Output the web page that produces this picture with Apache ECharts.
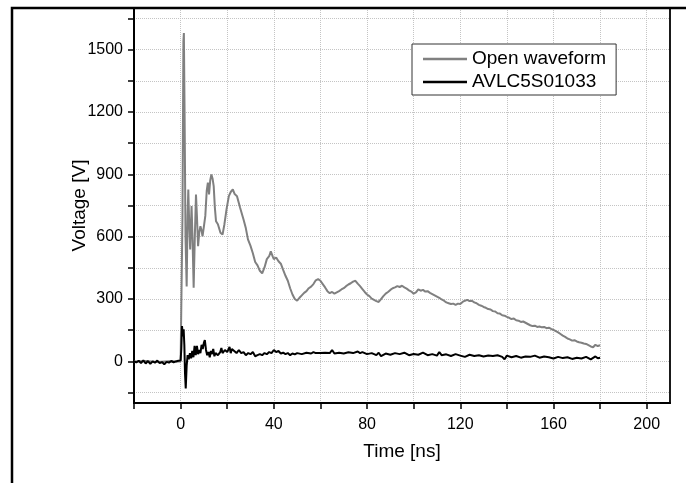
<!DOCTYPE html>
<html>
<head>
<meta charset="utf-8">
<script src="https://cdn.jsdelivr.net/npm/echarts@6/dist/echarts.min.js"></script>
<style>
html,body{margin:0;padding:0;background:#fff;}
#c{width:686px;height:483px;}
</style>
</head>
<body>
<div id="c"></div>
<script>
// ---- data ----
const openTime = [-20,-15,-10,-5,-1,0,0.4,0.8,1.2,1.4,1.7,2.1,2.6,3.0,3.3,3.6,4.1,4.7,5.1,5.6,6.1,6.6,7.0,7.5,8.0,8.5,9.0,9.4,10,10.6,11.2,11.7,12.2,12.7,13.2,13.7,14.2,14.7,15.2,16.0,17.1,18.0,18.8,19.7,20.7,21.5,22.4,23.2,24.2,25.5,27,28,28.9,
  30,31,32,33,34,35,36,37,38,38.7,39.5,40,41,42,43,44,45,46,47,48,49,50,51,52,53,54,55,56,57,58,59,60,61,62,63,64,65,66,67,68,69,70,71,72,73,74,75,76,77,78,79,80,81,82,83,84,85,86,87,88,89,90,91,92,93,94,95,96,97,98,99,100,101,102,103,104,105,106,107,108,109,110,111,112,113,114,115,116,117,118,119,120,121,122,123,124,125,126,127,128,129,130,131,132,133,134,135,136,137,138,139,140,141,142,143,144,145,146,147,148,149,150,151,152,153,154,155,156,157,158,159,160,161,162,163,164,165,166,167,168,169,170,171,172,173,174,175,176,177,178,179,180];
const openVolt = [0,2,-3,1,0,0,5,700,1540,1580,1200,600,360,700,827,700,538,747,600,355,600,803,700,554,620,650,630,602,650,700,820,860,803,870,899,880,843,740,674,660,619,610,660,731,795,815,827,805,795,740,683,640,587,
  556,520,478,462,436,424,452,492,506,530,505,492,500,482,470,440,412,388,352,322,300,292,306,318,330,338,352,360,372,390,396,388,372,356,338,328,334,326,332,338,346,352,362,370,376,384,388,374,362,348,334,322,314,302,296,290,286,300,314,326,334,344,352,356,362,358,364,356,350,342,336,326,332,346,340,344,336,338,330,324,318,312,306,298,292,284,280,276,278,272,278,276,286,292,296,290,292,284,280,272,268,262,258,252,250,242,240,232,230,222,220,214,210,204,206,198,196,190,192,186,180,174,170,172,166,168,164,166,160,162,156,152,146,140,132,124,118,110,106,100,102,96,92,90,86,84,78,72,68,80,74,78];

const avlcTime = [-20,-19,-18,-17,-16,-15,-14,-13,-12,-11,-10,-9,-8,-7,-6,-5,-4,-3,-2,-1,0,0.3,0.6,1.0,1.3,1.6,1.9,2.2,2.6,3.0,3.5,4.0,4.5,5.0,5.5,6.0,6.5,7.0,7.5,8.0,8.5,9.0,9.5,10.0,10.4,10.9,11.4,12,12.5,13,13.5,14,14.5,15,16,17,17.5,18,19,20,21,21.5,22,23,24,25,26,27,28,29,30,31,32,33,34,35,36,37,38,39,40,41,42,43,44,45,46,47,48,49,50,52,54,56,57,58,60,62,64,65,66,68,70,72,74,76,77,78,80,82,84,85,86,88,90,92,94,96,98,100,102,104,106,108,110,111,112,114,116,118,120,122,124,126,128,130,132,134,136,138,139,140,142,144,146,148,150,152,154,156,158,160,162,164,166,168,170,172,174,176,178,179,180];
const avlcVolt = [0,-5,3,-8,5,-10,2,-12,0,-6,4,-8,-3,-14,-2,-6,2,-4,0,3,5,60,170,120,155,80,-60,-130,-20,30,10,40,15,50,20,75,30,75,35,55,40,80,60,90,102,55,30,45,20,50,35,60,25,40,30,45,65,40,55,45,70,40,60,50,40,55,40,45,30,40,35,45,25,30,35,30,40,35,45,40,55,45,50,38,42,35,40,30,38,34,40,35,42,38,45,40,40,42,40,55,38,42,38,44,40,48,40,45,35,40,30,42,25,38,32,40,35,42,30,36,32,42,30,35,28,45,30,34,26,35,28,22,32,26,30,24,28,26,30,22,10,28,20,26,18,24,22,28,18,24,20,14,22,16,20,12,18,14,22,10,24,15,18];

const seriesNames = ['Open waveform', 'AVLC5S01033'];
const xTickValues = [-20,0,20,40,60,80,100,120,140,160,180,200];
const xLabelValues = [0,40,80,120,160,200];
const yTickValues = [-150,0,150,300,450,600,750,900,1050,1200,1350,1500,1650];
const yLabelValues = [0,300,600,900,1200,1500];

function pairs(t, v) { return t.map((x, i) => [x, v[i]]); }

const chart = echarts.init(document.getElementById('c'), null, {renderer: 'canvas'});
const FONT = 'Liberation Sans, Arial, sans-serif';
const gridLine = {show: true, lineStyle: {color: '#c4c4c4', type: 'dotted', width: 1}};

chart.setOption({
  animation: false,
  backgroundColor: '#ffffff',
  grid: {left: 134, right: 16, top: 8, bottom: 80, show: true, borderColor: '#1a1a1a', borderWidth: 2, backgroundColor: 'transparent'},
  xAxis: {
    type: 'value', min: -20, max: 210,
    name: 'Time [ns]', nameLocation: 'middle', nameGap: 39, nameMoveOverlap: false,
    nameTextStyle: {fontFamily: FONT, fontSize: 19, color: '#000'},
    axisLine: {show: true, onZero: false, lineStyle: {color: '#000', width: 2}},
    axisTick: {show: true, inside: false, length: 6, customValues: xTickValues, lineStyle: {color: '#000', width: 1.5}},
    axisLabel: {customValues: xLabelValues, formatter: v => String(v), fontFamily: FONT, fontSize: 16, color: '#000', margin: 14},
    splitLine: gridLine
  },
  yAxis: {
    type: 'value', min: -200, max: 1700,
    name: 'Voltage [V]', nameLocation: 'middle', nameGap: 45, nameRotate: 90, nameMoveOverlap: false,
    nameTextStyle: {fontFamily: FONT, fontSize: 19, color: '#000'},
    axisLine: {show: true, onZero: false, lineStyle: {color: '#000', width: 2}},
    axisTick: {show: true, inside: false, length: 6, customValues: yTickValues, lineStyle: {color: '#000', width: 1.5}},
    axisLabel: {customValues: yLabelValues, formatter: v => String(v), fontFamily: FONT, fontSize: 16, color: '#000', margin: 11},
    splitLine: gridLine
  },
  legend: {
    orient: 'vertical', left: 412, top: 44,
    padding: [5, 10, 3, 11], itemGap: 3, itemWidth: 44, itemHeight: 2.5,
    icon: 'rect',
    borderColor: '#333', borderWidth: 1, backgroundColor: '#fff',
    textStyle: {fontFamily: FONT, fontSize: 19, color: '#000', lineHeight: 20},
    data: seriesNames
  },
  series: [
    {name: seriesNames[0], type: 'line', data: pairs(openTime, openVolt), symbol: 'none', showSymbol: false,
     lineStyle: {color: '#808080', width: 2}, itemStyle: {color: '#808080'}, z: 2},
    {name: seriesNames[1], type: 'line', data: pairs(avlcTime, avlcVolt), symbol: 'none', showSymbol: false,
     lineStyle: {color: '#000000', width: 2}, itemStyle: {color: '#000000'}, z: 3}
  ],
  graphic: [
    {type: 'polyline', silent: true, z: 100,
     shape: {points: [[12, 483], [12, 8], [686, 8]]},
     style: {stroke: '#000', lineWidth: 2.5, fill: null}}
  ]
});
</script>
</body>
</html>
